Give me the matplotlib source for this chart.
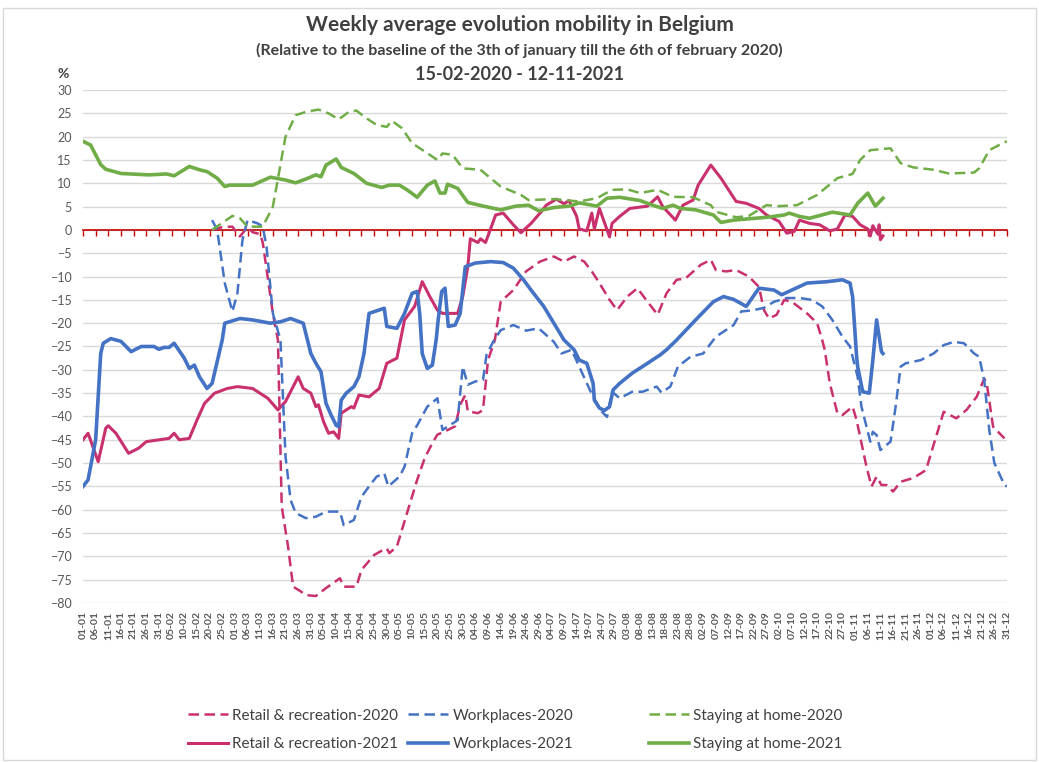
import numpy as np
import pandas as pd
import matplotlib
matplotlib.use("Agg")
import matplotlib.pyplot as plt
from matplotlib.patches import Rectangle

plt.rcParams['font.family'] = ['Lato', 'DejaVu Sans']

# day of the (leap) year 2020 calendar, 0 = 01-01
home21_d = [0, 3, 7, 9, 15, 26, 33, 36, 42, 46, 49, 53, 56, 58, 67, 74, 80, 84, 88, 92, 94, 96, 100, 102,
            107, 112, 118, 121, 125, 128, 132, 136, 139, 141, 143, 144, 148, 152, 155, 159, 165, 171, 176,
            180, 186, 192, 196, 203, 207, 212, 220, 225, 229, 233, 236, 242, 249, 252, 257, 270, 277, 279,
            283, 287, 296, 303, 306, 310, 313, 316]
home21_v = [19, 18.2, 14, 13, 12.1, 11.8, 12, 11.6, 13.6, 12.9, 12.5, 11.1, 9.3, 9.6, 9.6, 11.3, 10.7, 10.1,
            10.9, 11.8, 11.4, 13.9, 15.2, 13.4, 12.1, 10, 9.1, 9.6, 9.6, 8.6, 7, 9.6, 10.5, 7.9, 7.9, 9.8,
            8.9, 5.9, 5.5, 5, 4.3, 5.1, 5.3, 4.1, 4.8, 5.1, 5.8, 5.1, 6.8, 7, 6.3, 5.3, 4.6, 5.3, 4.6, 4.3,
            3.2, 1.6, 2.1, 2.7, 3.2, 3.6, 2.9, 2.5, 3.8, 3.2, 5.7, 7.9, 5.1, 6.8]

home20_d = [51, 59, 62, 65, 71, 75, 80, 84, 88, 93, 97, 101, 105, 108, 111, 116, 120, 122, 126, 130, 140,
            142, 146, 150, 157, 165, 173, 176, 186, 196, 203, 209, 215, 220, 227, 233, 241, 248, 250, 258,
            263, 270, 275, 282, 290, 298, 304, 307, 311, 315, 319, 323, 328, 336, 342, 352, 354, 358, 364, 365]
home20_v = [0, 3, 2.5, 0.7, 0.7, 5, 20, 24.6, 25.3, 25.8, 25, 23.7, 25.3, 25.6, 24.3, 22.5, 22.1, 23.4,
            21.8, 18.6, 15, 16.4, 16.1, 13.2, 12.9, 9.3, 7.5, 6.4, 6.6, 6.1, 6.8, 8.6, 8.7, 7.9, 8.6, 7.1,
            7, 5.3, 3.9, 2.7, 3, 5.3, 5.1, 5.3, 7.5, 11.1, 12, 15, 17.1, 17.3, 17.5, 14.3, 13.4, 12.9, 12.1,
            12.3, 13.2, 17.1, 18.8, 19]

retail21_d = [0, 2, 6, 9, 10, 13, 18, 22, 25, 34, 36, 38, 42, 45, 48, 52, 57, 61, 67, 73, 77, 80, 85, 87,
              90, 92, 93, 95, 97, 99, 101, 102, 106, 107, 109, 113, 117, 120, 124, 127, 131, 134, 137, 140,
              142, 148, 150, 152, 153, 156, 157, 159, 161, 163, 166, 170, 173, 177, 181, 183, 187, 190, 192,
              195, 196, 199, 201, 202, 204, 208, 209, 212, 216, 223, 227, 229, 234, 237, 241, 243, 248, 252,
              258, 262, 267, 270, 275, 278, 281, 283, 287, 291, 295, 298, 301, 304, 307, 310, 311, 312, 314,
              314.5, 315, 316]
retail21_v = [-45, -43.6, -49.7, -42.5, -42, -43.6, -47.9, -46.8, -45.4, -44.7, -43.6, -45, -44.7, -40.8,
              -37.2, -35, -34, -33.6, -34, -36.1, -38.6, -36.8, -31.5, -34, -35, -37.9, -37.5, -41.1, -43.6,
              -43.3, -44.7, -39.3, -37.9, -38.2, -35.4, -35.8, -34, -28.6, -27.5, -19.3, -16.4, -11.1,
              -14.3, -17.2, -17.9, -17.9, -14.3, -7.9, -1.9, -2.7, -1.9, -2.7, 0.2, 3.2, 3.6, 1.1, -0.6,
              1.4, 3.9, 5.3, 6.6, 5.6, 6.3, 2.9, 0.2, -0.2, 3.6, 0.2, 4.6, -1.5, 1.4, 2.9, 4.6, 5.1, 7.1,
              5, 2.1, 5.3, 6.4, 9.6, 13.9, 11.1, 6.1, 5.7, 4.6, 3.2, 1.8, -0.7, -0.3, 2.1, 1.4, 1.1, -0.2,
              0.2, 3.2, 2.9, 1.1, 0.2, -1.3, 0.9, -0.9, 1.1, -2.1, -1.3]

work21_d = [0, 2, 5, 7, 8, 11, 15, 19, 23, 28, 30, 32, 34, 36, 40, 42, 44, 46, 49, 51, 55, 56, 62, 67, 74,
            78, 82, 87, 90, 92, 94, 96, 98, 100, 101, 102, 104, 107, 109, 111, 113, 119, 120, 124, 127, 130,
            132, 133, 134, 136, 138, 139.5, 140.3, 141.7, 143, 144.3, 147, 149, 151, 155, 161, 166, 170, 174,
            177, 182, 186, 190, 194, 196, 199, 201.5, 202, 204, 206, 208, 209.4, 212, 217, 223, 228, 230.5,
            234.5, 242, 249, 253, 257, 262, 267, 273, 276, 280, 286, 294, 300, 303, 304, 305.6, 306, 308,
            310.6, 312, 313.5, 315.4, 316]
work21_v = [-55, -53.6, -45, -26.5, -24.3, -23.3, -23.9, -26.1, -25, -25, -25.6, -25.2, -25.2, -24.3,
            -27.5, -29.7, -29, -31.5, -34, -32.9, -23.6, -20, -19, -19.3, -20, -19.7, -19, -20, -26.5,
            -28.6, -30.4, -37.2, -39.7, -41.9, -42.2, -36.5, -35, -33.6, -31.5, -26.5, -17.9, -16.8,
            -20.7, -21.1, -17.9, -13.6, -13.2, -17.9, -26.5, -29.7, -29, -23.6, -19.3, -13.2, -12.5,
            -20.7, -20.4, -17.9, -7.9, -7.1, -6.8, -7, -8.2, -10.7, -12.9, -16.4, -20, -23.6, -25.7,
            -27.9, -28.6, -32.9, -36.5, -38.2, -38.7, -37.9, -34.3, -32.9, -30.7, -28.6, -26.8, -25.7,
            -23.6, -19.3, -15.4, -14.3, -14.9, -16.4, -12.5, -12.9, -13.9, -12.9, -11.4, -11.1, -10.7,
            -11.4, -14.3, -27.2, -29.3, -34.7, -35, -27.9, -19.3, -26.1, -26.5]

work20_d = [51, 53, 56, 59, 61, 63, 65, 69, 71, 72.5, 75, 78, 80, 82, 84, 88, 92, 96, 101.5, 103, 107, 110,
            113, 116, 119, 120.6, 125, 127, 130, 132, 136, 140, 142, 146, 148, 150, 152, 155, 158, 159.4,
            162, 165, 170, 175, 180, 186, 189, 193, 196, 201.5, 205, 207, 209, 212, 217, 221, 226.6, 228.5,
            232, 235, 240, 245, 250, 257, 260, 265, 269, 273, 278, 283, 288, 292, 296, 300, 303, 304, 306,
            307.5, 311, 312, 313.5, 315, 319, 321, 323, 325, 331, 336, 340, 344, 348, 352, 354, 356, 358,
            360, 364, 365]
work20_v = [2.1, 0, -11.4, -17.5, -13.6, -2.1, 2.1, 1.4, 0.7, -3.6, -17.9, -23.6, -48.6, -57.9, -60.7,
            -61.8, -61.5, -60.4, -60.4, -63.3, -62.2, -57.2, -55, -52.9, -52.2, -55, -52.9, -50.8, -43.6,
            -41.9, -37.9, -36.1, -42.9, -41.5, -40.8, -29.3, -33.2, -32.5, -32.2, -26.8, -24, -21.5,
            -20.4, -21.6, -21.1, -24, -26.5, -25.7, -29.3, -35.8, -39, -40.1, -34.7, -36.1, -34.7, -34.7,
            -33.6, -34.9, -33.6, -29.3, -27.2, -26.5, -22.9, -20.4, -17.5, -17.2, -16.7, -15.4, -14.6,
            -14.6, -15, -16.4, -19.3, -22.9, -25, -27.2, -31.5, -37.9, -45.4, -43.3, -44, -47.2, -45.4,
            -37.9, -29.3, -28.6, -27.9, -26.5, -24.7, -24, -24.3, -26.5, -27.2, -32.2, -42.9, -50, -54.7,
            -55]

retail20_d = [51, 55, 59, 62, 65, 67, 70, 71, 75, 77, 78.5, 81, 83, 86, 88, 92, 96, 101.5, 103, 108, 110,
              115, 118.6, 120, 121, 124, 128, 132, 135, 138, 140, 143, 147, 149, 151, 152, 156, 158, 160,
              162.7, 165, 170, 175, 180.5, 186, 190, 194, 198, 201, 204, 208, 211, 215, 219, 223, 227,
              230.5, 234.5, 238, 244, 248, 250, 254, 258, 263, 267, 269, 271, 274, 277, 280, 286, 290, 292,
              293, 295, 298, 300, 304, 305.6, 309.5, 311.5, 313.5, 315.4, 317.4, 320, 323, 328, 333, 337,
              340, 345, 349, 353, 356, 357, 359.5, 364]
retail20_v = [0, 0.6, 0.7, -1.4, 0.6, -0.5, -0.9, -2.7, -17.9, -23.6, -59.3, -67.9, -76.5, -77.5, -78.3,
              -78.5, -76.8, -74.7, -76.5, -76.5, -72.9, -69.7, -68.6, -68.3, -69.3, -67.9, -60.7, -53.6,
              -48.9, -45.7, -43.9, -43.2, -42.1, -37.5, -35.4, -38.9, -39.3, -38.6, -27.9, -23.6, -15.4,
              -12.9, -8.9, -6.8, -5.7, -6.8, -5.7, -6.8, -8.9, -11.4, -15, -17.2, -14.3, -12.5, -15.4,
              -18.2, -13.6, -10.7, -10.4, -7.5, -6.4, -8.6, -8.9, -8.6, -10, -12.2, -17.2, -19, -18.2, -15,
              -15.4, -17.9, -20, -23.6, -25.7, -32.9, -39.3, -39.7, -37.9, -40.8, -50.8, -55, -52.9, -54.7,
              -54.7, -56.1, -54, -53.2, -51.5, -44.3, -39, -40.4, -38.6, -35.8, -31.9, -32.9, -42.2, -44.7]

tick_days = np.arange(0, 366, 5)
tick_labels = pd.date_range('2020-01-01', '2020-12-31', freq='5D').strftime('%d-%m').tolist()

magenta = '#c9306e'
blue = '#4472c4'
green = '#70ad47'
txt = '#404040'

fig = plt.figure(figsize=(10.39, 7.62), dpi=100)
ax = fig.add_axes([83 / 1039, 1 - 603 / 762, 924 / 1039, 513 / 762])

dash = (0, (4.2, 2.2))
ax.plot(retail20_d, retail20_v, color=magenta, lw=1.8, ls=dash, label='Retail & recreation-2020')
ax.plot(retail21_d, retail21_v, color=magenta, lw=2.2, label='Retail & recreation-2021')
ax.plot(work20_d, work20_v, color=blue, lw=1.8, ls=dash, label='Workplaces-2020')
ax.plot(work21_d, work21_v, color=blue, lw=2.6, label='Workplaces-2021')
ax.plot(home20_d, home20_v, color=green, lw=1.8, ls=dash, label='Staying at home-2020')
ax.plot(home21_d, home21_v, color=green, lw=2.6, label='Staying at home-2021')

ax.set_xlim(0, 365)
ax.set_ylim(-80, 30)
ax.set_yticks(np.arange(-80, 31, 5))
ax.grid(axis='y', color='#d9d9d9', lw=1)
ax.set_axisbelow(True)
for s in ['top', 'left', 'right']:
    ax.spines[s].set_visible(False)
ax.spines['bottom'].set_position(('data', 0))
ax.spines['bottom'].set_color('#c00000')
ax.spines['bottom'].set_linewidth(1.2)
ax.spines['bottom'].set_zorder(1.5)
ax.set_xticks(tick_days)
ax.tick_params(axis='x', colors='#c00000', length=4, width=1, labelbottom=False)
ax.tick_params(axis='y', length=0, labelsize=9, labelcolor='#595959', pad=8)

sec = ax.secondary_xaxis(0)
sec.set_xticks(tick_days)
sec.set_xticklabels(tick_labels, rotation=90, fontsize=7.5, fontweight='bold', color='#595959')
sec.tick_params(length=0, pad=6)
sec.spines['bottom'].set_visible(False)

fig.text(0.5, 1 - 25 / 762, 'Weekly average evolution mobility in Belgium', ha='center', va='center',
         fontsize=15, fontweight='bold', color=txt)
fig.text(0.5, 1 - 50 / 762, '(Relative to the baseline of the 3th of january till the 6th of february 2020)',
         ha='center', va='center', fontsize=11.5, fontweight='bold', color=txt)
fig.text(0.5, 1 - 74 / 762, '15-02-2020 - 12-11-2021', ha='center', va='center',
         fontsize=13, fontweight='bold', color=txt)
fig.text(63 / 1039, 1 - 74 / 762, '%', ha='center', va='center', fontsize=10, fontweight='bold', color=txt)

h, l = ax.get_legend_handles_labels()
for i, x0 in enumerate([182, 402, 643]):
    fig.legend(h[2 * i:2 * i + 2], l[2 * i:2 * i + 2], loc='center left',
               bbox_to_anchor=(x0 / 1039, 1 - 730 / 762), frameon=False, fontsize=11, labelcolor=txt,
               handlelength=2.6, handletextpad=0.3, labelspacing=0.95, borderaxespad=0)

fig.patches.append(Rectangle((3 / 1039, 2 / 762), 1033 / 1039, 752 / 762, transform=fig.transFigure,
                             fill=False, edgecolor='#d9d9d9', lw=1))

fig.savefig('out.png', dpi=100)
